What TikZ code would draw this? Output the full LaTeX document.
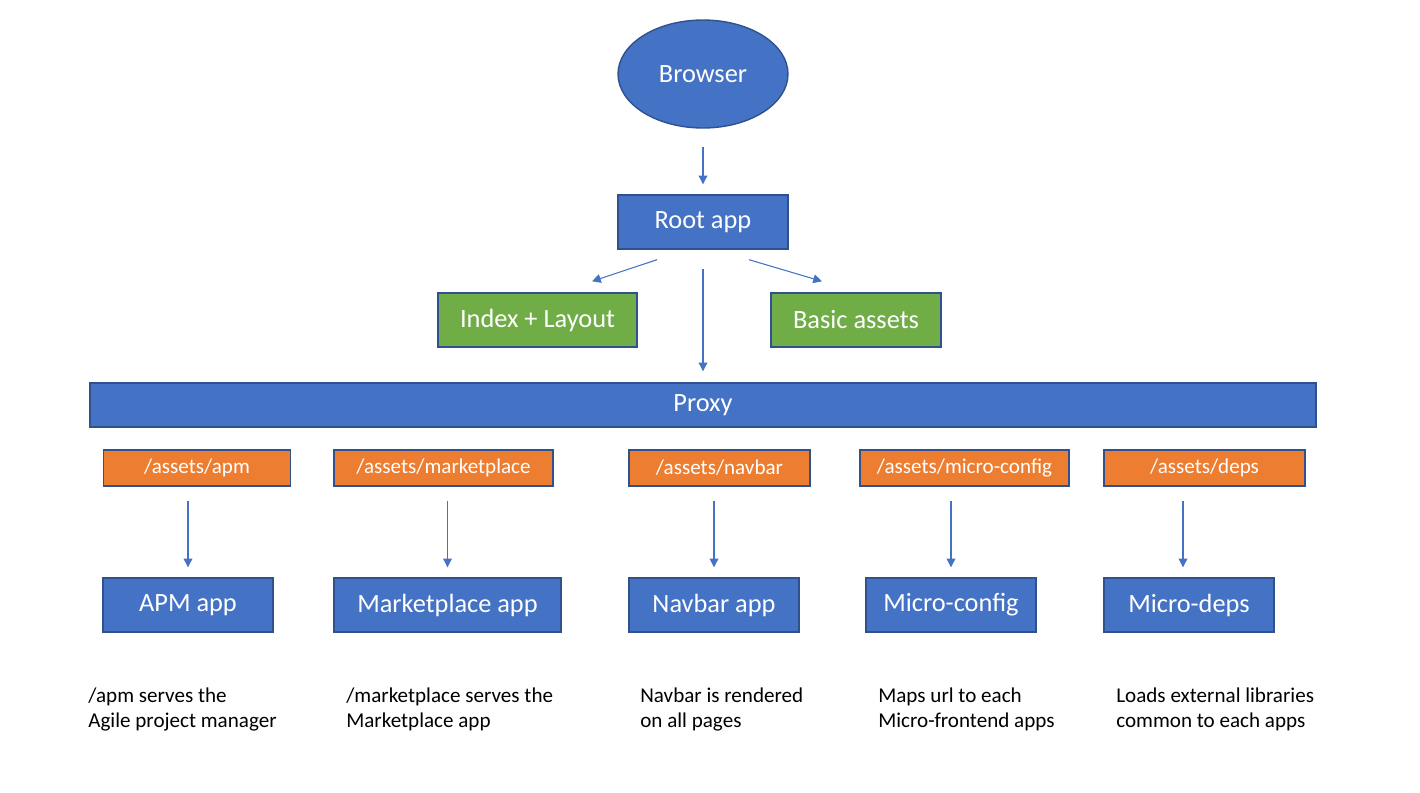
\documentclass[tikz,border=0pt]{standalone}
\usepackage{fontspec}
\setmainfont{Carlito}
\usepackage{tikz}
\usetikzlibrary{shapes,arrows.meta,positioning}
\definecolor{appFill}{HTML}{4472C4}
\definecolor{appLine}{HTML}{2F528F}
\definecolor{assetFill}{HTML}{70AD47}
\definecolor{pathFill}{HTML}{ED7D31}

\begin{document}
\begin{tikzpicture}[x=0.02cm, y=-0.02cm,
      boxApp/.style={rectangle, draw=appLine, fill=appFill, thick, inner sep=0pt, minimum height=1.08cm, text=white, font=\fontsize{15}{18}\selectfont},
      boxAsset/.style={boxApp, fill=assetFill},
      boxPath/.style={rectangle, draw=appLine, fill=pathFill, thick, inner sep=0pt, minimum height=0.72cm, text=white, font=\fontsize{12}{14}\selectfont},
      note/.style={anchor=north west, inner sep=0pt, align=left, font=\fontsize{12}{14.6}\selectfont},
      flow/.style={-{Triangle[width=5pt,length=5pt]}, draw=appFill, semithick}
    ]
      \useasboundingbox (0,0) rectangle (1420,792);
      \node[ellipse, draw=appLine, fill=appFill, thick, minimum width=3.4cm, minimum height=2.16cm, text=white, font=\fontsize{15}{18}\selectfont] (browser) at (703,74) {Browser};
      \node[boxApp, minimum width=3.4cm] (root) at (703,222) {Root app};
      \node[boxAsset, minimum width=3.98cm] (layout) at (537.5,320) {Index + Layout};
      \node[boxAsset, minimum width=3.4cm] (basic) at (856,320) {Basic assets};
      \node[boxApp, minimum width=24.52cm, minimum height=0.88cm] (proxy) at (703,405) {Proxy};

      % asset paths behind the proxy
      \node[boxPath, minimum width=3.74cm] (pApm) at (197,468) {/assets/apm};
      \node[boxPath, minimum width=4.38cm] (pMarket) at (443.5,468) {/assets/marketplace};
      \node[boxPath, minimum width=3.62cm] (pNavbar) at (719.5,468) {/assets/navbar};
      \node[boxPath, minimum width=4.18cm] (pConfig) at (964.5,468) {/assets/micro-config};
      \node[boxPath, minimum width=4.02cm] (pDeps) at (1204.5,468) {/assets/deps};

      % micro-frontend apps
      \node[boxApp, minimum width=3.4cm] (apm) at (188,605) {APM app};
      \node[boxApp, minimum width=4.54cm] (market) at (447.5,605) {Marketplace app};
      \node[boxApp, minimum width=3.4cm] (navbar) at (714,605) {Navbar app};
      \node[boxApp, minimum width=3.4cm] (config) at (951,605) {Micro-config};
      \node[boxApp, minimum width=3.4cm] (deps) at (1189,605) {Micro-deps};

      \node[note] (nApm) at (88,687) {/apm serves the\\Agile project manager};
      \node[note] (nMarket) at (346,687) {/marketplace serves the\\Marketplace app};
      \node[note] (nNavbar) at (640,687) {Navbar is rendered\\on all pages};
      \node[note] (nConfig) at (878,687) {Maps url to each\\Micro-frontend apps};
      \node[note] (nDeps) at (1116,687) {Loads external libraries\\common to each apps};

      \draw[flow] ([yshift=-0.36cm]browser.south) -- ([yshift=0.2cm]root.north);
      \draw[flow] ([shift={(-0.92cm,-0.2cm)}]root.south) -- ([shift={(1.09cm,0.22cm)}]layout.north);
      \draw[flow] ([shift={(0.92cm,-0.2cm)}]root.south) -- ([shift={(-0.68cm,0.22cm)}]basic.north);
      \draw[flow] ([yshift=-0.38cm]root.south) -- ([yshift=0.22cm]proxy.north);
      \draw[flow] ([yshift=-0.28cm]pApm.south -| apm) -- ([yshift=0.2cm]apm.north);
      \draw[flow] ([yshift=-0.28cm]pMarket.south -| market) -- ([yshift=0.2cm]market.north);
      \draw[flow] ([yshift=-0.28cm]pNavbar.south -| navbar) -- ([yshift=0.2cm]navbar.north);
      \draw[flow] ([yshift=-0.28cm]pConfig.south -| config) -- ([yshift=0.2cm]config.north);
      \draw[flow] ([shift={(-0.12cm,-0.28cm)}]pDeps.south -| deps) -- ([shift={(-0.12cm,0.2cm)}]deps.north);
    \end{tikzpicture}
\end{document}
